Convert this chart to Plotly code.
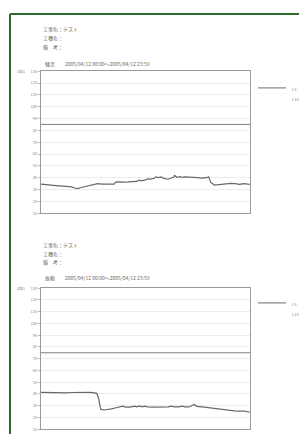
import plotly.graph_objects as go

# ---------------- data ----------------
HEADER_LINES = ["工事名：テスト", "工種名：", "備　考："]
NOISE_TITLE = "騒音　　2005/04/12 00:00～2005/04/12 23:59"
VIB_TITLE = "振動　　2005/04/12 00:00～2005/04/12 23:59"
Y_TICKS = [10, 20, 30, 40, 50, 60, 70, 80, 90, 100, 110, 120, 130]
Y_UNIT = "(dB)"
LEGEND_LABELS = ["L5", "L10"]
NOISE_LIMIT = 85
VIB_LIMIT = 75

noise_hours = [0.0, 0.5, 1.0, 1.5, 2.0, 2.5, 3.0, 3.5, 3.9, 4.2, 4.5, 5.0, 5.5, 6.0,
               6.5, 7.0, 7.5, 8.0, 8.4, 8.6, 9.0, 9.5, 10.0, 10.5, 11.0, 11.3, 11.5, 12.0,
               12.3, 12.5, 13.0, 13.2, 13.5, 13.8, 14.1, 14.6, 15.0, 15.2, 15.35, 15.6,
               16.0, 16.2, 16.5, 17.0, 17.3, 17.5, 18.0, 18.5, 19.0, 19.25, 19.5, 19.9,
               20.4, 21.0, 21.8, 22.3, 22.8, 23.3, 23.98]
noise_l5 = [34.5, 34.3, 34.0, 33.6, 33.1, 32.8, 32.5, 32.2, 31.3, 30.8, 31.5, 32.4, 33.2,
            34.0, 35.0, 34.6, 34.5, 34.9, 34.6, 36.4, 36.2, 36.3, 36.4, 36.6, 36.8, 37.9,
            37.3, 38.1, 39.2, 38.6, 39.5, 40.6, 40.0, 40.7, 39.4, 38.7, 39.6, 40.3, 41.9,
            40.3, 40.9, 40.2, 40.6, 40.4, 40.9, 40.2, 40.0, 39.7, 40.0, 40.8, 36.0, 33.8,
            34.3, 34.9, 35.2, 34.9, 34.4, 35.0, 34.4]

vib_hours = [0.0, 0.5, 1.0, 1.5, 2.0, 2.5, 3.0, 3.5, 4.0, 4.5, 5.0, 5.5, 6.0, 6.4, 6.6,
             6.85, 7.2, 7.6, 8.1, 8.5, 8.9, 9.4, 9.7, 10.2, 10.8, 11.0, 11.3, 11.6, 11.9,
             12.2, 12.8, 13.4, 14.0, 14.6, 15.0, 15.3, 15.8, 16.2, 16.5, 17.0, 17.6, 17.9,
             18.5, 19.2, 19.7, 20.1, 20.6, 21.1, 21.6, 22.2, 22.8, 23.4, 23.98]
vib_l10 = [41.3, 41.2, 41.3, 41.2, 41.0, 40.7, 40.9, 41.2, 41.3, 41.3, 41.2, 41.3, 41.0,
           40.5, 36.5, 27.0, 26.3, 26.6, 27.3, 28.0, 28.5, 29.5, 28.8, 28.7, 29.6, 28.9,
           29.7, 28.9, 29.6, 28.9, 28.8, 28.7, 28.8, 28.9, 29.6, 28.9, 29.0, 29.6, 28.9,
           28.9, 31.0, 29.4, 29.0, 28.3, 27.6, 27.2, 27.0, 26.7, 26.1, 25.5, 25.4, 25.3,
           24.4]

# ---------------- layout helpers ----------------
W, H = 307, 434
FONT = "Noto Sans CJK JP"
TXT = "#6a6a6a"


def px(x):
    return x / W


def py(y):
    return 1 - y / H


fig = go.Figure()

fig.add_trace(go.Scatter(x=noise_hours, y=noise_l5, mode="lines", xaxis="x", yaxis="y",
                         line=dict(color="#686868", width=1.2), showlegend=False,
                         name=LEGEND_LABELS[0]))
fig.add_trace(go.Scatter(x=vib_hours, y=vib_l10, mode="lines", xaxis="x2", yaxis="y2",
                         line=dict(color="#686868", width=1.2), showlegend=False,
                         name=LEGEND_LABELS[0]))

xdom = [px(33), px(242)]
axis_common = dict(range=[10, 130], tickvals=Y_TICKS, ticktext=[str(v) for v in Y_TICKS],
                   tickfont=dict(size=4, color="#8a8a8a", family=FONT),
                   showgrid=True, gridcolor="#ececec", gridwidth=1, zeroline=False,
                   showline=True, linecolor="#9a9a9a", linewidth=1, mirror=True,
                   ticks="outside", ticklen=2, tickcolor="#bbbbbb", fixedrange=True)
xaxis_common = dict(range=[0, 24], showticklabels=False, showgrid=False, zeroline=False,
                    showline=True, linecolor="#9a9a9a", linewidth=1, mirror=True,
                    ticks="", fixedrange=True)

fig.update_layout(
    width=W, height=H,
    margin=dict(l=0, r=0, t=0, b=0),
    paper_bgcolor="white", plot_bgcolor="white",
    font=dict(family=FONT, color=TXT),
    xaxis=dict(domain=xdom, anchor="y", **xaxis_common),
    yaxis=dict(domain=[py(204), py(60)], anchor="x", **axis_common),
    xaxis2=dict(domain=xdom, anchor="y2", **xaxis_common),
    yaxis2=dict(domain=[py(423), py(280)], anchor="x2", **axis_common),
    showlegend=False,
)

shapes = []
annotations = []

# page border (green frame on top and left)
shapes.append(dict(type="line", xref="paper", yref="paper", x0=px(2), x1=1, y0=py(2), y1=py(2),
                   line=dict(color="#2f6a2f", width=2)))
shapes.append(dict(type="line", xref="paper", yref="paper", x0=px(2), x1=px(2), y0=py(2), y1=0,
                   line=dict(color="#2f6a2f", width=2)))

# limit lines
shapes.append(dict(type="line", xref="x domain", yref="y", x0=0, x1=1,
                   y0=NOISE_LIMIT, y1=NOISE_LIMIT, line=dict(color="#808080", width=1)))
shapes.append(dict(type="line", xref="x2 domain", yref="y2", x0=0, x1=1,
                   y0=VIB_LIMIT, y1=VIB_LIMIT, line=dict(color="#808080", width=1)))


def block(top, legend_y):
    for i, t in enumerate(HEADER_LINES):
        annotations.append(dict(text=t, xref="paper", yref="paper", x=px(33), y=py(top + 9 * i),
                                xanchor="left", yanchor="middle", showarrow=False,
                                font=dict(size=5, color=TXT, family=FONT)))
    # legend
    shapes.append(dict(type="line", xref="paper", yref="paper", x0=px(250), x1=px(278),
                       y0=py(legend_y), y1=py(legend_y), line=dict(color="#6a6a6a", width=1)))
    for i, lab in enumerate(LEGEND_LABELS):
        annotations.append(dict(text=lab, xref="paper", yref="paper", x=px(282),
                                y=py(legend_y + 1 + 10 * i), xanchor="left", yanchor="middle",
                                showarrow=False, font=dict(size=4, color="#8a8a8a", family=FONT)))


block(17, 77)
block(236, 295)

for title, ty in ((NOISE_TITLE, 53), (VIB_TITLE, 270)):
    annotations.append(dict(text=title, xref="paper", yref="paper", x=px(35), y=py(ty),
                            xanchor="left", yanchor="middle", showarrow=False,
                            font=dict(size=5, color=TXT, family=FONT)))

for ty in (60, 280):
    annotations.append(dict(text=Y_UNIT, xref="paper", yref="paper", x=px(19), y=py(ty),
                            xanchor="right", yanchor="middle", showarrow=False,
                            font=dict(size=4, color="#8a8a8a", family=FONT)))

fig.update_layout(shapes=shapes, annotations=annotations)

fig.write_html("out.html")
